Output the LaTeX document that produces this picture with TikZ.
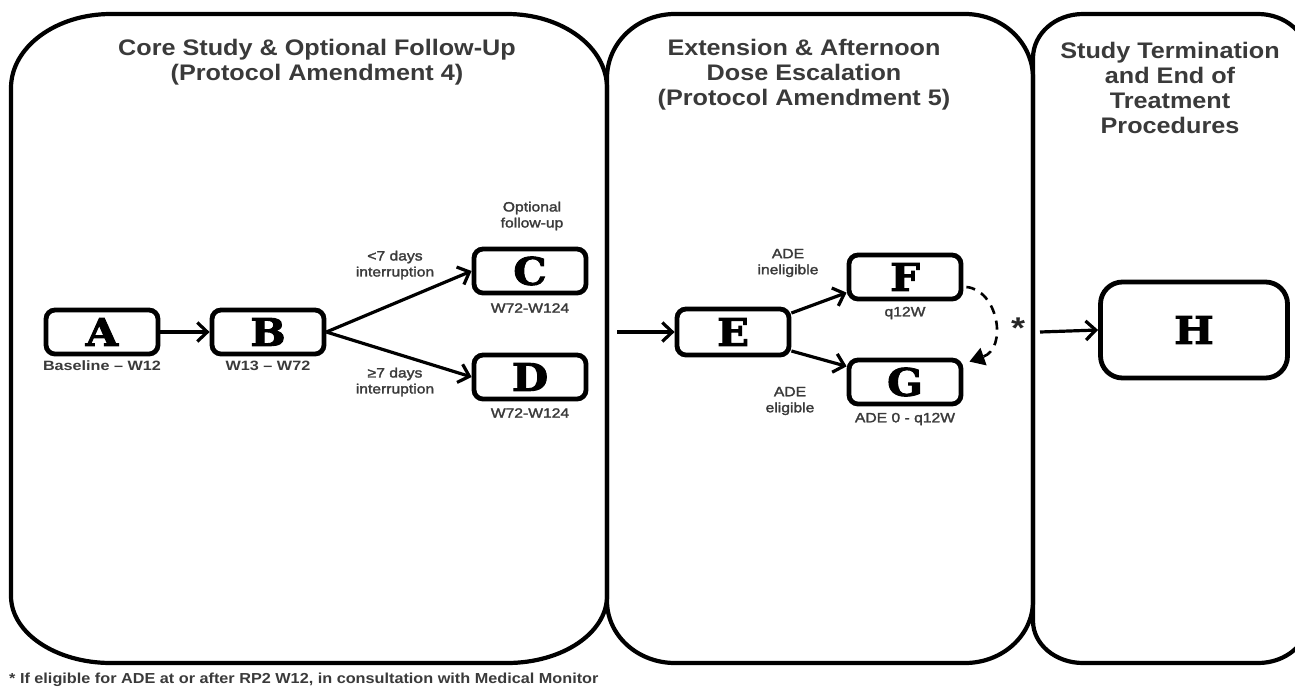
\documentclass[tikz,border=0pt]{standalone}
\usepackage{fontspec}
\setmainfont{Liberation Sans}[FakeStretch=1.2]
\newfontfamily\titlefont{Liberation Sans}[FakeStretch=1.12]
\newfontfamily\semib{Liberation Sans}[FakeStretch=1.16,FakeBold=2]
\newfontfamily\letterfont{DejaVu Serif}[FakeBold=2.5,FakeStretch=1.1]
\newfontfamily\notefont{Liberation Sans}[FakeStretch=1.12]
\usetikzlibrary{arrows.meta,calc}
\definecolor{txt}{HTML}{3A3A3A}
\tikzset{
 panel/.style={line width=4.2pt},
 box/.style={draw, line width=4.8pt, rounded corners=9pt, minimum width=112pt, minimum height=44pt, inner sep=0pt, font=\letterfont\bfseries\fontsize{38}{38}\selectfont},
 ttl/.style={align=center, text=txt, font=\titlefont\bfseries\fontsize{22.5}{25}\selectfont, inner sep=0pt},
 lab/.style={align=center, text=txt, font=\semib\fontsize{13.5}{16}\selectfont, inner sep=0pt},
 blab/.style={align=center, text=txt, font=\bfseries\fontsize{13.5}{16}\selectfont, inner sep=0pt},
 arr/.style={line width=3.2pt, -{Straight Barb[length=10pt,width=19pt]}},
}
\begin{document}
\begin{tikzpicture}[x=1pt,y=-1pt]
\useasboundingbox (0,0) rectangle (1295,691);
% panels
\draw[panel] (11,88) arc[start angle=180,end angle=90,x radius=100pt,y radius=74pt] -- (507,14)
  arc[start angle=90,end angle=0,x radius=100pt,y radius=74pt] -- (607,596)
  arc[start angle=0,end angle=-90,x radius=100pt,y radius=67pt] -- (111,663)
  arc[start angle=-90,end angle=-180,x radius=100pt,y radius=67pt] -- cycle;
\draw[panel] (607,78) arc[start angle=180,end angle=90,x radius=68pt,y radius=64pt] -- (965,14)
  arc[start angle=90,end angle=0,x radius=68pt,y radius=64pt] -- (1033,601)
  arc[start angle=0,end angle=-90,x radius=68pt,y radius=62pt] -- (675,663)
  arc[start angle=-90,end angle=-180,x radius=68pt,y radius=62pt] -- cycle;
\draw[panel] (1033,58) arc[start angle=180,end angle=90,x radius=50pt,y radius=44pt] -- (1258,14)
  arc[start angle=90,end angle=0,x radius=50pt,y radius=44pt] -- (1308,621)
  arc[start angle=0,end angle=-90,x radius=50pt,y radius=42pt] -- (1083,663)
  arc[start angle=-90,end angle=-180,x radius=50pt,y radius=42pt] -- cycle;
% titles
\node[ttl] (t1) at (317,62) {Core Study \& Optional Follow-Up\\(Protocol Amendment  4)};
\node[ttl] (t2) at (804,75) {Extension \& Afternoon\\Dose Escalation\\(Protocol Amendment  5)};
\node[ttl] (t3) at (1170,88) {Study  Termination\\and End of\\Treatment\\Procedures};
% boxes
\node[box] (A) at (102,332) {A};
\node[box] (B) at (268,332) {B};
\node[box] (C) at (530,271) {C};
\node[box] (D) at (530,377) {D};
\node[box, minimum height=46pt] (E) at (733,332) {E};
\node[box] (F) at (905,277) {F};
\node[box] (G) at (905,382) {G};
\node[box, minimum width=187pt, minimum height=96pt, rounded corners=22pt] (H) at (1194,330) {H};
% box labels
\node[blab] (Al) at (102,366) {Baseline -- W12};
\node[blab] (Bl) at (268,366) {W13 -- W72};
\node[lab] (Co) at (532,216) {Optional\\follow-up};
\node[lab] (Cl) at (530,308) {W72-W124};
\node[lab] (Dl) at (530,413) {W72-W124};
\node[lab] (Fl) at (905,313) {q12W};
\node[lab] (Gl) at (905,419) {ADE  0 - q12W};
% edge labels
\node[lab] (l1) at (395,265) {<7 days\\interruption};
\node[lab] (l2) at (395,382) {≥7 days\\interruption};
\node[lab] (l3) at (788,263) {ADE\\ineligible};
\node[lab] (l4) at (790,401) {ADE\\eligible};
% connectors
\coordinate (s1) at (617,332);
\coordinate (s2) at (1040,332);
\draw[arr] (A) -- (B);
\draw[arr] (B.east) -- (C.west);
\draw[arr] (B.east) -- (D.west);
\draw[arr] (s1) -- (E.west);
\draw[arr] (E.18) -- (F.195);
\draw[arr] (E.-18) -- (G.165);
\draw[arr] (s2) -- (H.west);
\draw[line width=2.6pt, dash pattern=on 9pt off 7pt, -{Triangle[length=15pt,width=18pt]}]
  ($(F.east)+(3,10)$) .. controls (998,290) and (1008,348) .. ($(G.north east)+(6,4)$);
\node[text=black!85, font=\bfseries\fontsize{30}{30}\selectfont, inner sep=0pt] (ast) at (1018,328) {*};
% footnote
\node[anchor=west, text=txt, inner sep=0pt, font=\notefont\bfseries\fontsize{14.5}{16}\selectfont] (fn) at (9,680) {* If eligible for ADE at or after RP2 W12, in consultation with Medical Monitor};
\end{tikzpicture}
\end{document}
